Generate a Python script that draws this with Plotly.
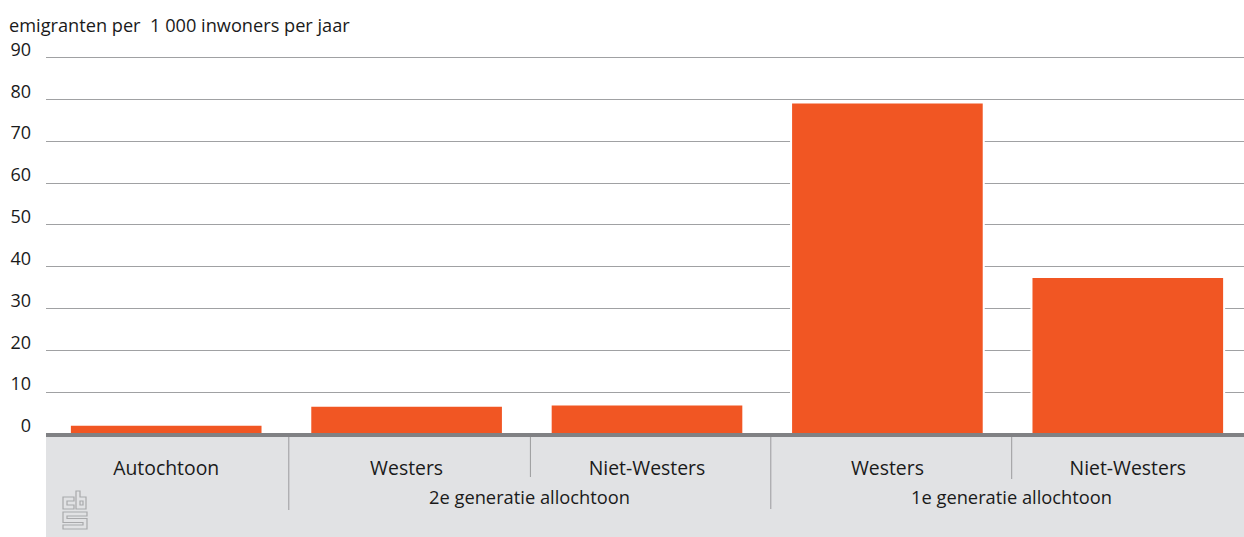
import plotly.graph_objects as go

FONT = "Open Sans"
TXT = "#1a1a1a"
positions = [0, 1, 2, 3, 4]
categories = ["Autochtoon", "Westers", "Niet-Westers", "Westers", "Niet-Westers"]
values = [2.0, 6.5, 6.8, 79.0, 37.3]
group_labels = ["2e generatie allochtoon", "1e generatie allochtoon"]
group_centers = [1.51, 3.515]
y_ticks = [0, 10, 20, 30, 40, 50, 60, 70, 80, 90]
W, H = 1244, 537
T, B, L = 55, 103, 46
plot_h = H - T - B
plot_w = W - L
unit = 240.4
x_end = -0.5 + plot_w / unit
frac = lambda px: -px / plot_h
px = lambda x: (x - L) / plot_w
py = lambda y: (H - B - y) / plot_h


def poly(points):
    return "M" + " L".join(f"{px(a):.5f},{py(b):.5f}" for a, b in points) + " Z"


logo = [
    [(74, 497), (63, 497), (63, 509), (74, 509), (74, 505), (67, 505), (67, 501), (74, 501)],
    [(76, 491), (80, 491), (80, 497), (86, 497), (86, 509), (76, 509)],
    [(80, 501), (83, 501), (83, 505), (80, 505)],
    [(63, 512), (87, 512), (87, 516), (67, 516), (67, 518.5), (87, 518.5), (87, 529), (63, 529),
     (63, 525), (83, 525), (83, 522.5), (63, 522.5)],
]

fig = go.Figure()
fig.add_bar(x=positions, y=values, marker=dict(color="white", line=dict(width=0)), width=0.81, hoverinfo="skip")
fig.add_bar(x=positions, y=values, marker=dict(color="#f15623", line=dict(width=0)), width=0.793, hoverinfo="skip")
shapes = [
    dict(type="rect", xref="paper", yref="paper", x0=0, x1=1, y0=frac(B), y1=0,
         fillcolor="#e1e2e4", line_width=0, layer="below"),
    dict(type="line", xref="paper", yref="paper", x0=0, x1=1, y0=frac(1), y1=frac(1),
         line=dict(color="#808184", width=4)),
]
for xv, bottom in [(0.51, 76), (1.515, 43), (2.515, 75), (3.517, 45)]:
    shapes.append(dict(type="line", xref="x", yref="paper", x0=xv, x1=xv, y0=frac(3), y1=frac(bottom),
                       line=dict(color="#9a9b9d", width=1)))
for p in logo:
    shapes.append(dict(type="path", xref="paper", yref="paper", path=poly(p),
                       line=dict(color="#a8a9ab", width=1.2), fillcolor="rgba(0,0,0,0)"))
annotations = [dict(text="emigranten per  1 000 inwoners per jaar", xref="paper", yref="paper", x=-39.5 / plot_w,
                    y=1 + 30 / plot_h, xanchor="left", yanchor="middle", showarrow=False,
                    font=dict(family=FONT, size=18.2, color=TXT))]
for c, t in zip(group_centers, group_labels):
    annotations.append(dict(text=t, x=c, xref="x", yref="paper", y=frac(62), yanchor="middle", showarrow=False,
                            font=dict(family=FONT, size=18.3, color=TXT)))
fig.update_layout(
    width=W, height=H, margin=dict(l=L, r=0, t=T, b=B, pad=0), paper_bgcolor="white", plot_bgcolor="white",
    showlegend=False, shapes=shapes, annotations=annotations, barmode="overlay",
    xaxis=dict(range=[-0.5, x_end], tickvals=positions, ticktext=categories, showgrid=False, ticks="", showline=False,
               zeroline=False, tickfont=dict(family=FONT, size=19.4, color=TXT), ticklabelstandoff=21),
    yaxis=dict(range=[0, 90.6], tickvals=y_ticks, showgrid=True, gridcolor="#a0a1a3", gridwidth=1, zeroline=False,
               ticks="", showline=False, tickfont=dict(family=FONT, size=18, color=TXT), ticklabelstandoff=14,
               ticklabelshift=-8),
)
fig.write_html("out.html", config=dict(displayModeBar=False),
               post_script="document.body.style.margin='0';")
